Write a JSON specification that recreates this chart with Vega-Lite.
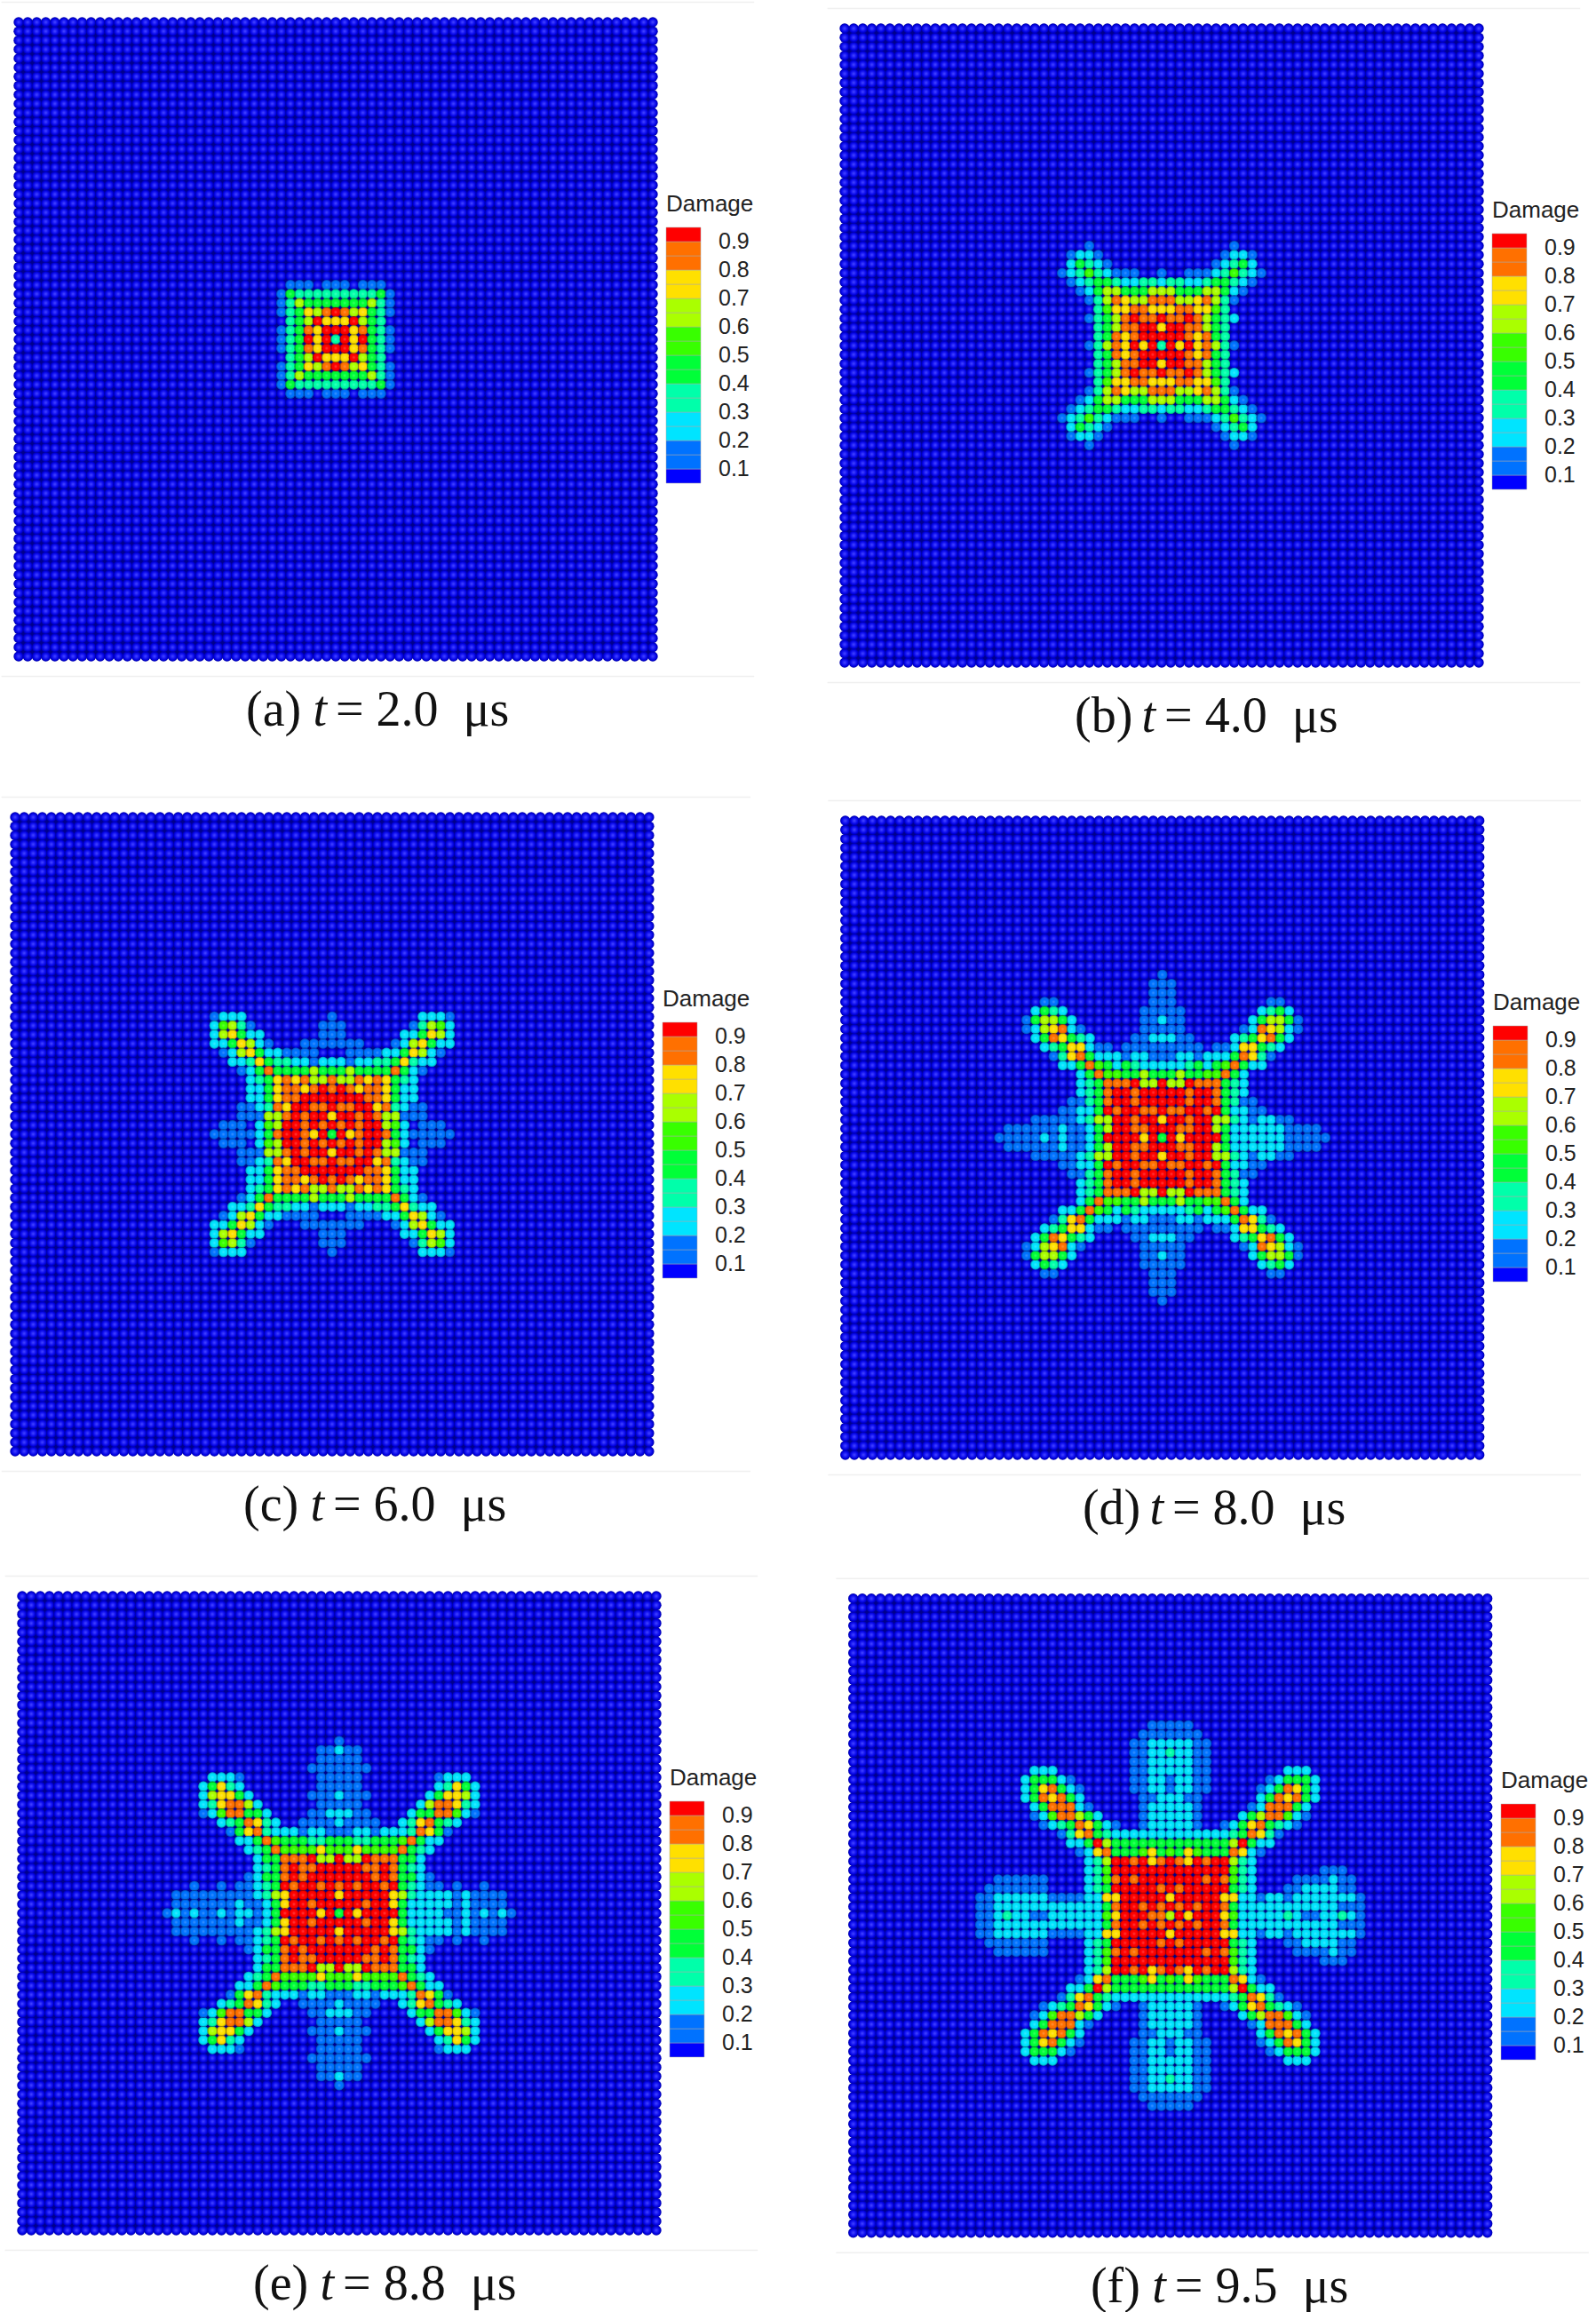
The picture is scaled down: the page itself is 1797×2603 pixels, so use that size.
{"$schema":"https://vega.github.io/schema/vega-lite/v6.json","padding":0,"spacing":0,"columns":2,"background":"white","config":{"view":{"stroke":null},"axis":{"disable":true},"legend":{"type":"gradient","orient":"none","gradientLength":288,"gradientThickness":39,"direction":"vertical","titleFont":"Liberation Sans","titleFontSize":26,"titleFontWeight":"normal","titleColor":"#222222","titlePadding":13,"labelFont":"Liberation Sans","labelFontSize":25,"labelColor":"#222222","labelOverlap":false,"gradientStrokeColor":"#aaaaaa","gradientStrokeWidth":0.5}},"resolve":{"scale":{"color":"independent"},"legend":{"color":"independent"}},
"datasets":{"grid":[{"x":[-35,-34,-33,-32,-31,-30,-29,-28,-27,-26,-25,-24,-23,-22,-21,-20,-19,-18,-17,-16,-15,-14,-13,-12,-11,-10,-9,-8,-7,-6,-5,-4,-3,-2,-1,0,1,2,3,4,5,6,7,8,9,10,11,12,13,14,15,16,17,18,19,20,21,22,23,24,25,26,27,28,29,30,31,32,33,34,35],"y":[-35,-34,-33,-32,-31,-30,-29,-28,-27,-26,-25,-24,-23,-22,-21,-20,-19,-18,-17,-16,-15,-14,-13,-12,-11,-10,-9,-8,-7,-6,-5,-4,-3,-2,-1,0,1,2,3,4,5,6,7,8,9,10,11,12,13,14,15,16,17,18,19,20,21,22,23,24,25,26,27,28,29,30,31,32,33,34,35],"d":0}],
"damage":[
{"p":"a","y":[6,-6],"x":[-5,-4,-3,-1,0,1,3,4,5],"d":[1,1,1,1,1,1,1,1,1]},
{"p":"a","y":[5,-5],"x":[-6,-5,-4,-3,-2,-1,0,1,2,3,4,5,6],"d":[1,4,3,3,3,3,3,3,3,3,3,4,1]},
{"p":"a","y":[4,-4],"x":[-6,-5,-4,-3,-2,-1,0,1,2,3,4,5,6],"d":[1,3,6,4,4,4,4,4,4,4,6,3,1]},
{"p":"a","y":[3,-3],"x":[-6,-5,-4,-3,-2,-1,0,1,2,3,4,5,6],"d":[1,3,4,7,6,8,9,8,6,7,4,3,1]},
{"p":"a","y":[2,-2],"x":[-5,-4,-3,-2,-1,0,1,2,3,4,5],"d":[3,4,6,9,7,7,7,9,6,4,3]},
{"p":"a","y":[1,-1],"x":[-6,-5,-4,-3,-2,-1,0,1,2,3,4,5,6],"d":[1,3,4,8,7,9,9,9,7,8,4,3,1]},
{"p":"a","y":[0],"x":[-6,-5,-4,-3,-2,-1,0,1,2,3,4,5,6],"d":[1,3,4,9,7,9,3,9,7,9,4,3,1]},
{"p":"b","y":[11,-11],"x":[-8,8],"d":[1,1]},
{"p":"b","y":[10,-10],"x":[-10,-9,-8,-7,7,8,9,10],"d":[1,2,2,1,1,2,2,1]},
{"p":"b","y":[9,-9],"x":[-10,-9,-8,-7,-6,6,7,8,9,10],"d":[2,4,3,2,1,1,2,3,4,2]},
{"p":"b","y":[8,-8],"x":[-11,-10,-9,-8,-7,-6,-5,-4,-3,0,3,4,5,6,7,8,9,10,11],"d":[1,2,3,5,3,2,1,1,1,1,1,1,1,2,3,5,3,2,1]},
{"p":"b","y":[7,-7],"x":[-10,-9,-8,-7,-6,-5,-4,-3,-2,-1,0,1,2,3,4,5,6,7,8,9,10],"d":[1,2,3,4,4,3,2,2,3,3,2,3,3,2,2,3,4,4,3,2,1]},
{"p":"b","y":[6,-6],"x":[-9,-8,-7,-6,-5,-4,-3,-2,-1,0,1,2,3,4,5,6,7,8,9],"d":[1,2,4,6,6,4,4,4,6,6,6,4,4,4,6,6,4,2,1]},
{"p":"b","y":[5,-5],"x":[-8,-7,-6,-5,-4,-3,-2,-1,0,1,2,3,4,5,6,7,8],"d":[1,3,6,8,7,6,6,8,8,8,6,6,7,8,6,3,1]},
{"p":"b","y":[4,-4],"x":[-7,-6,-5,-4,-3,-2,-1,0,1,2,3,4,5,6,7],"d":[3,5,7,7,8,8,7,7,7,8,8,7,7,5,3]},
{"p":"b","y":[3,-3],"x":[-8,-7,-6,-5,-4,-3,-2,-1,0,1,2,3,4,5,6,7,8],"d":[1,3,4,6,8,9,8,8,9,8,8,9,8,6,4,3,2]},
{"p":"b","y":[2,-2],"x":[-7,-6,-5,-4,-3,-2,-1,0,1,2,3,4,5,6,7],"d":[3,4,6,8,8,9,9,7,9,9,8,8,6,4,3]},
{"p":"b","y":[1,-1],"x":[-7,-6,-5,-4,-3,-2,-1,0,1,2,3,4,5,6,7],"d":[3,4,8,7,8,9,9,9,9,9,8,7,8,4,3]},
{"p":"b","y":[0],"x":[-8,-7,-6,-5,-4,-3,-2,-1,0,1,2,3,4,5,6,7,8],"d":[1,3,6,8,7,9,7,9,3,9,7,9,7,8,6,3,1]},
{"p":"c","y":[13,-13],"x":[-13,-12,-11,-10,0,10,11,12,13],"d":[1,2,2,2,1,2,2,2,1]},
{"p":"c","y":[12,-12],"x":[-13,-12,-11,-10,-9,-1,0,1,9,10,11,12,13],"d":[2,5,6,3,1,1,1,1,1,3,6,5,2]},
{"p":"c","y":[11,-11],"x":[-13,-12,-11,-10,-9,-8,-1,0,1,8,9,10,11,12,13],"d":[2,6,7,4,2,2,1,1,1,2,2,4,7,6,2]},
{"p":"c","y":[10,-10],"x":[-13,-12,-11,-10,-9,-8,-7,-3,-2,-1,0,1,2,3,7,8,9,10,11,12,13],"d":[2,2,4,7,6,2,1,1,1,1,1,1,1,1,1,2,6,7,4,2,2]},
{"p":"c","y":[9,-9],"x":[-12,-11,-10,-9,-8,-7,-6,-5,-4,-3,-2,2,3,4,5,6,7,8,9,10,11,12],"d":[1,2,6,7,4,2,2,1,1,1,1,1,1,1,1,2,2,4,7,6,2,1]},
{"p":"c","y":[8,-8],"x":[-11,-10,-9,-8,-7,-6,-5,-4,-3,-2,-1,0,1,2,3,4,5,6,7,8,9,10,11],"d":[2,2,3,7,4,3,3,2,2,1,2,2,2,1,2,2,3,3,4,7,3,2,2]},
{"p":"c","y":[7,-7],"x":[-10,-9,-8,-7,-6,-5,-4,-3,-2,-1,0,1,2,3,4,5,6,7,8,9,10],"d":[1,2,4,8,4,4,4,4,6,4,4,4,6,4,4,4,4,8,4,2,1]},
{"p":"c","y":[6,-6],"x":[-9,-8,-7,-6,-5,-4,-3,-2,-1,0,1,2,3,4,5,6,7,8,9],"d":[2,3,4,7,8,7,8,6,6,8,6,6,8,7,8,7,4,3,2]},
{"p":"c","y":[5,-5],"x":[-9,-8,-7,-6,-5,-4,-3,-2,-1,0,1,2,3,4,5,6,7,8,9],"d":[2,2,4,7,8,8,7,8,9,8,9,8,7,8,8,7,4,2,2]},
{"p":"c","y":[4,-4],"x":[-9,-8,-7,-6,-5,-4,-3,-2,-1,0,1,2,3,4,5,6,7,8,9],"d":[2,2,4,7,8,8,9,9,9,9,9,9,9,8,8,7,4,2,2]},
{"p":"c","y":[3,-3],"x":[-10,-9,-8,-7,-6,-5,-4,-3,-2,-1,0,1,2,3,4,5,6,7,8,9,10],"d":[1,1,2,3,8,7,9,9,8,8,9,8,8,9,9,7,8,3,2,1,1]},
{"p":"c","y":[2,-2],"x":[-10,-9,-8,-7,-6,-5,-4,-3,-2,-1,0,1,2,3,4,5,6,7,8,9,10],"d":[1,1,1,6,6,8,9,8,9,9,7,9,9,8,9,8,6,6,1,1,1]},
{"p":"c","y":[1,-1],"x":[-12,-11,-10,-8,-7,-6,-5,-4,-3,-2,-1,0,1,2,3,4,5,6,7,8,10,11,12],"d":[1,1,1,2,5,6,9,9,8,9,8,9,8,9,8,9,9,6,5,2,1,1,1]},
{"p":"c","y":[0],"x":[-13,-12,-11,-10,-9,-8,-7,-6,-5,-4,-3,-2,-1,0,1,2,3,4,5,6,7,8,9,10,11,12,13],"d":[1,1,1,1,1,2,4,8,9,9,8,7,9,4,9,7,8,9,9,8,4,2,1,1,1,1,1]},
{"p":"d","y":[18,-18],"x":[0],"d":[1]},
{"p":"d","y":[17,-17,16,-16],"x":[-1,0,1],"d":[1,1,1]},
{"p":"d","y":[15,-15],"x":[-13,-12,-1,0,1,12,13],"d":[1,1,1,1,1,1,1]},
{"p":"d","y":[14,-14],"x":[-14,-13,-12,-11,-2,-1,0,1,2,11,12,13,14],"d":[2,4,3,2,1,1,1,1,1,2,3,4,2]},
{"p":"d","y":[13,-13],"x":[-15,-14,-13,-12,-11,-10,-2,-1,0,1,2,10,11,12,13,14,15],"d":[1,4,6,6,4,2,1,1,2,1,1,2,4,6,6,4,1]},
{"p":"d","y":[12,-12],"x":[-15,-14,-13,-12,-11,-10,-9,-2,-1,0,1,2,9,10,11,12,13,14,15],"d":[1,2,6,7,8,2,1,1,1,1,1,1,1,2,8,7,6,2,1]},
{"p":"d","y":[11,-11],"x":[-14,-13,-12,-11,-10,-9,-8,-3,-2,-1,0,1,2,3,8,9,10,11,12,13,14],"d":[2,4,8,7,4,3,2,1,1,2,2,2,1,1,2,3,4,7,8,4,2]},
{"p":"d","y":[10,-10],"x":[-13,-12,-11,-10,-9,-8,-7,-6,-4,-3,-2,-1,0,1,2,3,4,6,7,8,9,10,11,12,13],"d":[2,3,4,7,7,2,1,1,1,1,1,1,1,1,1,1,1,1,1,2,7,7,4,3,2]},
{"p":"d","y":[9,-9],"x":[-12,-11,-10,-9,-8,-7,-6,-5,-4,-3,-2,-1,0,1,2,3,4,5,6,7,8,9,10,11,12],"d":[1,3,7,8,4,2,2,2,1,2,2,1,1,1,2,2,1,2,2,2,4,8,7,3,1]},
{"p":"d","y":[8,-8],"x":[-11,-10,-9,-8,-7,-6,-5,-4,-3,-2,-1,0,1,2,3,4,5,6,7,8,9,10,11],"d":[2,2,4,8,5,4,2,4,3,2,2,2,2,2,3,4,2,4,5,8,4,2,2]},
{"p":"d","y":[7,-7],"x":[-9,-8,-7,-6,-5,-4,-3,-2,-1,0,1,2,3,4,5,6,7,8,9],"d":[2,4,8,5,5,4,4,6,4,4,4,6,4,4,5,5,8,4,2]},
{"p":"d","y":[6,-6],"x":[-9,-8,-7,-6,-5,-4,-3,-2,-1,0,1,2,3,4,5,6,7,8,9],"d":[2,3,4,8,8,8,9,6,6,9,6,6,9,8,8,8,4,3,2]},
{"p":"d","y":[5,-5],"x":[-9,-8,-7,-6,-5,-4,-3,-2,-1,0,1,2,3,4,5,6,7,8,9],"d":[2,3,4,8,9,9,8,9,9,9,9,9,8,9,9,8,4,3,2]},
{"p":"d","y":[4,-4],"x":[-10,-9,-8,-7,-6,-5,-4,-3,-2,-1,0,1,2,3,4,5,6,7,8,9,10],"d":[1,1,3,4,8,9,9,8,9,9,9,9,9,8,9,9,8,4,3,1,1]},
{"p":"d","y":[3,-3],"x":[-11,-10,-9,-8,-7,-6,-5,-4,-3,-2,-1,0,1,2,3,4,5,6,7,8,9,10,11],"d":[1,1,2,2,4,9,8,9,9,8,8,9,8,8,9,9,8,9,4,2,2,1,1]},
{"p":"d","y":[2,-2],"x":[-14,-13,-12,-11,-10,-9,-8,-7,-6,-5,-4,-3,-2,-1,0,1,2,3,4,5,6,7,8,9,10,11,12,13,14],"d":[1,1,1,1,1,2,3,6,6,9,9,8,9,9,7,9,9,8,9,9,6,6,3,2,1,2,2,1,1]},
{"p":"d","y":[1,-1],"x":[-17,-16,-15,-14,-13,-12,-11,-10,-9,-8,-7,-6,-5,-4,-3,-2,-1,0,1,2,3,4,5,6,7,8,9,10,11,12,13,14,15,16,17],"d":[1,1,1,1,1,1,2,1,1,2,4,6,9,9,8,8,9,9,9,8,8,9,9,6,4,2,2,2,2,2,2,1,1,1,1]},
{"p":"d","y":[0],"x":[-18,-17,-16,-15,-14,-13,-12,-11,-10,-9,-8,-7,-6,-5,-4,-3,-2,-1,0,1,2,3,4,5,6,7,8,9,10,11,12,13,14,15,16,17,18],"d":[1,1,1,1,1,2,1,2,1,1,2,4,9,9,9,9,7,9,4,9,7,9,9,9,9,4,2,2,2,2,2,2,1,1,1,1,1]},
{"p":"e","y":[19,-19],"x":[0],"d":[1]},
{"p":"e","y":[18,-18],"x":[-2,-1,0,1,2],"d":[1,1,2,1,1]},
{"p":"e","y":[17,-17],"x":[-2,-1,0,1,2],"d":[1,1,1,1,1]},
{"p":"e","y":[16,-16],"x":[-3,-2,-1,0,1,2,3],"d":[1,1,1,1,1,1,1]},
{"p":"e","y":[15,-15],"x":[-14,-13,-12,-11,-2,-1,0,1,2,11,12,13,14],"d":[2,2,2,1,1,1,1,1,1,1,2,2,2]},
{"p":"e","y":[14,-14],"x":[-15,-14,-13,-12,-11,-2,-1,0,1,2,11,12,13,14,15],"d":[2,4,7,3,2,1,1,1,1,1,2,3,7,4,2]},
{"p":"e","y":[13,-13],"x":[-15,-14,-13,-12,-11,-10,-3,-2,-1,0,1,2,3,10,11,12,13,14,15],"d":[2,6,7,7,4,2,1,1,1,2,1,1,1,2,4,7,7,6,2]},
{"p":"e","y":[12,-12],"x":[-15,-14,-13,-12,-11,-10,-9,-2,-1,0,1,2,9,10,11,12,13,14,15],"d":[2,3,7,8,8,6,2,1,1,1,1,1,2,6,8,8,7,3,2]},
{"p":"e","y":[11,-11],"x":[-15,-14,-13,-12,-11,-10,-9,-8,-3,-2,-1,0,1,2,3,8,9,10,11,12,13,14,15],"d":[1,2,5,8,8,4,4,2,1,1,2,2,2,1,1,2,4,4,8,8,5,2,1]},
{"p":"e","y":[10,-10],"x":[-13,-12,-11,-10,-9,-8,-7,-4,-3,-2,-1,0,1,2,3,4,7,8,9,10,11,12,13],"d":[2,3,4,8,7,3,2,1,1,1,1,2,1,1,1,1,2,3,7,8,4,3,2]},
{"p":"e","y":[9,-9],"x":[-12,-11,-10,-9,-8,-7,-6,-5,-4,-3,-2,-1,0,1,2,3,4,5,6,7,8,9,10,11,12],"d":[1,4,7,8,3,2,2,2,1,2,2,1,1,1,2,2,1,2,2,2,3,8,7,4,1]},
{"p":"e","y":[8,-8],"x":[-11,-10,-9,-8,-7,-6,-5,-4,-3,-2,-1,0,1,2,3,4,5,6,7,8,9,10,11],"d":[2,2,4,8,5,4,4,4,3,3,4,4,4,3,3,4,4,4,5,8,4,2,2]},
{"p":"e","y":[7,-7],"x":[-10,-9,-8,-7,-6,-5,-4,-3,-2,-1,0,1,2,3,4,5,6,7,8,9,10],"d":[2,3,4,8,5,5,5,5,7,5,5,5,7,5,5,5,5,8,4,3,2]},
{"p":"e","y":[6,-6],"x":[-9,-8,-7,-6,-5,-4,-3,-2,-1,0,1,2,3,4,5,6,7,8,9],"d":[2,4,4,8,8,8,9,6,6,9,6,6,9,8,8,8,4,4,2]},
{"p":"e","y":[5,-5],"x":[-9,-8,-7,-6,-5,-4,-3,-2,-1,0,1,2,3,4,5,6,7,8,9],"d":[2,3,4,8,9,8,8,9,9,9,9,9,8,8,9,8,4,3,2]},
{"p":"e","y":[4,-4],"x":[-10,-9,-8,-7,-6,-5,-4,-3,-2,-1,0,1,2,3,4,5,6,7,8,9,10],"d":[1,2,4,4,8,9,8,9,9,9,9,9,9,9,8,9,8,4,4,2,1]},
{"p":"e","y":[3,-3],"x":[-16,-13,-11,-10,-9,-8,-7,-6,-5,-4,-3,-2,-1,0,1,2,3,4,5,6,7,8,9,10,11,13,16],"d":[1,1,1,1,2,3,4,9,8,9,9,8,9,8,9,8,9,9,8,9,4,3,2,1,1,1,1]},
{"p":"e","y":[2,-2],"x":[-18,-17,-16,-15,-14,-13,-12,-11,-10,-9,-8,-7,-6,-5,-4,-3,-2,-1,0,1,2,3,4,5,6,7,8,9,10,11,12,13,14,15,16,17,18],"d":[1,1,1,1,1,1,1,1,1,2,3,6,7,9,9,9,9,9,7,9,9,9,9,9,7,6,3,2,2,2,2,1,2,1,1,1,1]},
{"p":"e","y":[1,-1],"x":[-18,-17,-16,-15,-14,-13,-12,-11,-10,-9,-8,-7,-6,-5,-4,-3,-2,-1,0,1,2,3,4,5,6,7,8,9,10,11,12,13,14,15,16,17,18],"d":[1,1,1,1,1,1,1,2,1,1,2,4,7,9,9,8,9,9,9,9,9,8,9,9,7,4,2,2,2,2,2,1,2,1,1,1,1]},
{"p":"e","y":[0],"x":[-19,-18,-17,-16,-15,-14,-13,-12,-11,-10,-9,-8,-7,-6,-5,-4,-3,-2,-1,0,1,2,3,4,5,6,7,8,9,10,11,12,13,14,15,16,17,18,19],"d":[1,2,1,2,1,1,2,1,2,2,1,2,4,9,9,9,9,7,9,4,9,7,9,9,9,9,4,2,2,2,2,1,1,2,1,2,1,2,1]},
{"p":"f","y":[21,-21],"x":[-2,-1,0,1,2],"d":[1,1,1,1,1]},
{"p":"f","y":[20,-20],"x":[-3,-2,-1,0,1,2,3],"d":[1,1,1,1,1,1,1]},
{"p":"f","y":[19,-19],"x":[-4,-3,-2,-1,0,1,2,3,4],"d":[1,1,2,2,2,2,2,1,1]},
{"p":"f","y":[18,-18],"x":[-4,-3,-2,-1,0,1,2,3,4],"d":[1,1,2,2,3,2,2,1,1]},
{"p":"f","y":[17,-17],"x":[-4,-3,-2,-1,0,1,2,3,4],"d":[1,1,2,2,2,2,2,1,1]},
{"p":"f","y":[16,-16],"x":[-15,-14,-13,-4,-3,-2,-1,0,1,2,3,4,13,14,15],"d":[2,2,2,1,1,2,2,2,2,2,1,1,2,2,2]},
{"p":"f","y":[15,-15],"x":[-16,-15,-14,-13,-12,-11,-4,-3,-2,-1,0,1,2,3,4,11,12,13,14,15,16],"d":[2,4,4,4,2,1,1,1,2,2,1,2,2,1,1,1,2,4,4,4,2]},
{"p":"f","y":[14,-14],"x":[-16,-15,-14,-13,-12,-11,-10,-4,-3,-2,-1,0,1,2,3,4,10,11,12,13,14,15,16],"d":[2,4,7,8,4,2,1,1,1,2,2,1,2,2,1,1,1,2,4,8,7,4,2]},
{"p":"f","y":[13,-13],"x":[-16,-15,-14,-13,-12,-11,-10,-3,-2,-1,0,1,2,3,10,11,12,13,14,15,16],"d":[2,4,8,7,8,4,2,1,1,2,2,2,1,1,2,4,8,7,8,4,2]},
{"p":"f","y":[12,-12],"x":[-15,-14,-13,-12,-11,-10,-9,-3,-2,-1,0,1,2,3,9,10,11,12,13,14,15],"d":[2,4,8,8,8,2,1,1,2,2,2,2,2,1,1,2,8,8,8,4,2]},
{"p":"f","y":[11,-11],"x":[-15,-14,-13,-12,-11,-10,-9,-8,-3,-2,-1,0,1,2,3,8,9,10,11,12,13,14,15],"d":[1,2,5,8,8,6,4,2,1,2,2,2,2,2,1,2,4,6,8,8,5,2,1]},
{"p":"f","y":[10,-10],"x":[-14,-13,-12,-11,-10,-9,-8,-7,-6,-3,-2,-1,0,1,2,3,6,7,8,9,10,11,12,13,14],"d":[1,2,3,4,8,7,4,2,1,1,2,2,2,2,2,1,1,2,4,7,8,4,3,2,1]},
{"p":"f","y":[9,-9],"x":[-12,-11,-10,-9,-8,-7,-6,-5,-4,-3,-2,-1,0,1,2,3,4,5,6,7,8,9,10,11,12],"d":[1,3,7,8,4,3,2,2,2,2,2,2,2,2,2,2,2,2,2,3,4,8,7,3,1]},
{"p":"f","y":[8,-8],"x":[-11,-10,-9,-8,-7,-6,-5,-4,-3,-2,-1,0,1,2,3,4,5,6,7,8,9,10,11],"d":[2,2,4,9,6,4,4,4,4,4,4,4,4,4,4,4,4,4,6,9,4,2,2]},
{"p":"f","y":[7,-7],"x":[-10,-9,-8,-7,-6,-5,-4,-3,-2,-1,0,1,2,3,4,5,6,7,8,9,10],"d":[1,2,7,8,4,4,4,5,7,4,5,4,7,5,4,4,4,8,7,2,1]},
{"p":"f","y":[6,-6],"x":[-9,-8,-7,-6,-5,-4,-3,-2,-1,0,1,2,3,4,5,6,7,8,9],"d":[2,3,6,9,9,8,9,7,8,9,8,7,9,8,9,9,6,3,2]},
{"p":"f","y":[5,-5],"x":[-9,-8,-7,-6,-5,-4,-3,-2,-1,0,1,2,3,4,5,6,7,8,9,17,18,19],"d":[2,3,5,9,9,9,9,9,9,9,9,9,9,9,9,9,5,3,2,1,1,1]},
{"p":"f","y":[4,-4],"x":[-19,-18,-17,-16,-15,-14,-9,-8,-7,-6,-5,-4,-3,-2,-1,0,1,2,3,4,5,6,7,8,9,14,15,16,17,18,19,20],"d":[1,1,1,1,1,1,2,3,5,8,9,8,9,9,9,9,9,9,9,8,9,8,5,3,2,1,1,1,1,2,1,1]},
{"p":"f","y":[3,-3],"x":[-20,-19,-18,-17,-16,-15,-14,-9,-8,-7,-6,-5,-4,-3,-2,-1,0,1,2,3,4,5,6,7,8,9,13,14,15,16,17,18,19,20],"d":[1,1,1,1,1,1,1,2,3,4,9,9,9,9,9,8,9,8,9,9,9,9,9,4,3,2,1,1,2,2,2,2,1,1]},
{"p":"f","y":[2,-2],"x":[-21,-20,-19,-18,-17,-16,-15,-14,-13,-12,-11,-10,-9,-8,-7,-6,-5,-4,-3,-2,-1,0,1,2,3,4,5,6,7,8,9,10,11,12,13,14,15,16,17,18,19,20,21],"d":[1,1,2,2,2,2,2,2,1,1,1,1,2,2,7,7,9,9,9,9,9,7,9,9,9,9,9,7,7,2,2,1,2,2,1,2,2,2,2,2,2,2,1]},
{"p":"f","y":[1,-1],"x":[-21,-20,-19,-18,-17,-16,-15,-14,-13,-12,-11,-10,-9,-8,-7,-6,-5,-4,-3,-2,-1,0,1,2,3,4,5,6,7,8,9,10,11,12,13,14,15,16,17,18,19,20,21],"d":[1,1,2,2,2,2,2,2,2,2,2,2,2,2,4,8,9,9,8,9,8,9,8,9,8,9,9,8,4,2,2,2,2,2,2,2,2,2,2,2,1,1,1]},
{"p":"f","y":[0],"x":[-21,-20,-19,-18,-17,-16,-15,-14,-13,-12,-11,-10,-9,-8,-7,-6,-5,-4,-3,-2,-1,0,1,2,3,4,5,6,7,8,9,10,11,12,13,14,15,16,17,18,19,20,21],"d":[1,1,2,3,2,2,1,1,2,2,2,2,2,2,5,7,9,9,9,8,8,6,9,7,9,9,9,7,5,2,2,2,2,2,3,2,1,1,2,2,3,2,1]}
],
"one":[{}]},
"concat":[
{"width":898,"height":868,"encoding":{"x":{"type":"quantitative","scale":{"domain":[-36.96,51.08]}},"y":{"type":"quantitative","scale":{"domain":[-47.65,37.45]}}},
"layer":[
{"data":{"name":"one"},"mark":{"type":"rule","color":"#efefef","strokeWidth":1.5},"encoding":{"x":{"datum":-36.9},"x2":{"datum":46.2},"y":{"datum":37.2}}},
{"data":{"name":"one"},"mark":{"type":"rule","color":"#efefef","strokeWidth":1.5},"encoding":{"x":{"datum":-36.9},"x2":{"datum":46.2},"y":{"datum":-37.2}}},
{"data":{"name":"one"},"mark":{"type":"rect","color":"#00008c"},"encoding":{"x":{"datum":-35},"x2":{"datum":35},"y":{"datum":-35},"y2":{"datum":35}}},
{"data":{"name":"grid"},"transform":[{"flatten":["x"]},{"flatten":["y"]}],"mark":{"type":"circle","size":130,"opacity":1,"fill":{"gradient":"radial","stops":[{"offset":0,"color":"#4848ff"},{"offset":0.4,"color":"#1c1cf6"},{"offset":0.75,"color":"#0000de"},{"offset":1,"color":"#0000a0"}]}},"encoding":{"x":{"field":"x"},"y":{"field":"y"}}},
{"data":{"name":"damage"},"transform":[{"filter":"datum.p=='a'"},{"flatten":["x","d"]},{"flatten":["y"]}],"mark":{"type":"circle","size":130,"opacity":1},"encoding":{"x":{"field":"x"},"y":{"field":"y"},"color":{"field":"d","type":"quantitative","scale":{"type":"quantize","domain":[0.5,9.5],"range":["#0000ff","#0072ff","#0072ff","#00e4ff","#00e4ff","#00ffaa","#00ffaa","#00ff38","#00ff38","#38ff00","#38ff00","#aaff00","#aaff00","#ffe000","#ffe000","#ff7000","#ff7000","#ff0000"]},"legend":{"title":"Damage","labelOffset":20,"legendX":749,"legendY":217,"labelExpr":"datum.value%1==0?format(datum.value/10,'.1f'):''","encode":{"labels":{"update":{"dy":{"value":3}}}}}}}},
{"data":{"name":"damage"},"transform":[{"filter":"datum.p=='a'"},{"flatten":["x","d"]},{"flatten":["y"]}],"mark":{"type":"circle","size":130,"opacity":1,"fill":{"gradient":"radial","stops":[{"offset":0,"color":"rgba(255,255,255,0.25)"},{"offset":0.4,"color":"rgba(255,255,255,0)"},{"offset":0.7,"color":"rgba(0,0,0,0)"},{"offset":1,"color":"rgba(0,0,0,0.35)"}]}},"encoding":{"x":{"field":"x"},"y":{"field":"y"}}},
{"data":{"name":"one"},"mark":{"type":"text","text":"(a)","font":"Liberation Serif","fontSize":56,"align":"left","baseline":"alphabetic","color":"#111111"},"encoding":{"x":{"datum":-9.9},"y":{"datum":-42.65}}},
{"data":{"name":"one"},"mark":{"type":"text","text":"t","font":"Liberation Serif","fontStyle":"italic","fontSize":56,"align":"left","baseline":"alphabetic","color":"#111111"},"encoding":{"x":{"datum":-2.5},"y":{"datum":-42.65}}},
{"data":{"name":"one"},"mark":{"type":"text","text":"= 2.0\u00a0\u00a0μs","font":"Liberation Serif","fontSize":56,"align":"left","baseline":"alphabetic","color":"#111111"},"encoding":{"x":{"datum":0.0},"y":{"datum":-42.65}}}
]},
{"width":899,"height":868,"encoding":{"x":{"type":"quantitative","scale":{"domain":[-40.1,48.04]}},"y":{"type":"quantitative","scale":{"domain":[-46.96,38.14]}}},
"layer":[
{"data":{"name":"one"},"mark":{"type":"rule","color":"#efefef","strokeWidth":1.5},"encoding":{"x":{"datum":-36.9},"x2":{"datum":46.2},"y":{"datum":37.2}}},
{"data":{"name":"one"},"mark":{"type":"rule","color":"#efefef","strokeWidth":1.5},"encoding":{"x":{"datum":-36.9},"x2":{"datum":46.2},"y":{"datum":-37.2}}},
{"data":{"name":"one"},"mark":{"type":"rect","color":"#00008c"},"encoding":{"x":{"datum":-35},"x2":{"datum":35},"y":{"datum":-35},"y2":{"datum":35}}},
{"data":{"name":"grid"},"transform":[{"flatten":["x"]},{"flatten":["y"]}],"mark":{"type":"circle","size":130,"opacity":1,"fill":{"gradient":"radial","stops":[{"offset":0,"color":"#4848ff"},{"offset":0.4,"color":"#1c1cf6"},{"offset":0.75,"color":"#0000de"},{"offset":1,"color":"#0000a0"}]}},"encoding":{"x":{"field":"x"},"y":{"field":"y"}}},
{"data":{"name":"damage"},"transform":[{"filter":"datum.p=='b'"},{"flatten":["x","d"]},{"flatten":["y"]}],"mark":{"type":"circle","size":130,"opacity":1},"encoding":{"x":{"field":"x"},"y":{"field":"y"},"color":{"field":"d","type":"quantitative","scale":{"type":"quantize","domain":[0.5,9.5],"range":["#0000ff","#0072ff","#0072ff","#00e4ff","#00e4ff","#00ffaa","#00ffaa","#00ff38","#00ff38","#38ff00","#38ff00","#aaff00","#aaff00","#ffe000","#ffe000","#ff7000","#ff7000","#ff0000"]},"legend":{"title":"Damage","labelOffset":20,"legendX":781,"legendY":224,"labelExpr":"datum.value%1==0?format(datum.value/10,'.1f'):''","encode":{"labels":{"update":{"dy":{"value":3}}}}}}}},
{"data":{"name":"damage"},"transform":[{"filter":"datum.p=='b'"},{"flatten":["x","d"]},{"flatten":["y"]}],"mark":{"type":"circle","size":130,"opacity":1,"fill":{"gradient":"radial","stops":[{"offset":0,"color":"rgba(255,255,255,0.25)"},{"offset":0.4,"color":"rgba(255,255,255,0)"},{"offset":0.7,"color":"rgba(0,0,0,0)"},{"offset":1,"color":"rgba(0,0,0,0.35)"}]}},"encoding":{"x":{"field":"x"},"y":{"field":"y"}}},
{"data":{"name":"one"},"mark":{"type":"text","text":"(b)","font":"Liberation Serif","fontSize":56,"align":"left","baseline":"alphabetic","color":"#111111"},"encoding":{"x":{"datum":-9.6},"y":{"datum":-42.65}}},
{"data":{"name":"one"},"mark":{"type":"text","text":"t","font":"Liberation Serif","fontStyle":"italic","fontSize":56,"align":"left","baseline":"alphabetic","color":"#111111"},"encoding":{"x":{"datum":-2.2},"y":{"datum":-42.65}}},
{"data":{"name":"one"},"mark":{"type":"text","text":"= 4.0\u00a0\u00a0μs","font":"Liberation Serif","fontSize":56,"align":"left","baseline":"alphabetic","color":"#111111"},"encoding":{"x":{"datum":0.3},"y":{"datum":-42.65}}}
]},
{"width":898,"height":868,"encoding":{"x":{"type":"quantitative","scale":{"domain":[-36.57,51.49]}},"y":{"type":"quantitative","scale":{"domain":[-45.0,40.1]}}},
"layer":[
{"data":{"name":"one"},"mark":{"type":"rule","color":"#efefef","strokeWidth":1.5},"encoding":{"x":{"datum":-36.5},"x2":{"datum":46.2},"y":{"datum":37.2}}},
{"data":{"name":"one"},"mark":{"type":"rule","color":"#efefef","strokeWidth":1.5},"encoding":{"x":{"datum":-36.5},"x2":{"datum":46.2},"y":{"datum":-37.2}}},
{"data":{"name":"one"},"mark":{"type":"rect","color":"#00008c"},"encoding":{"x":{"datum":-35},"x2":{"datum":35},"y":{"datum":-35},"y2":{"datum":35}}},
{"data":{"name":"grid"},"transform":[{"flatten":["x"]},{"flatten":["y"]}],"mark":{"type":"circle","size":130,"opacity":1,"fill":{"gradient":"radial","stops":[{"offset":0,"color":"#4848ff"},{"offset":0.4,"color":"#1c1cf6"},{"offset":0.75,"color":"#0000de"},{"offset":1,"color":"#0000a0"}]}},"encoding":{"x":{"field":"x"},"y":{"field":"y"}}},
{"data":{"name":"damage"},"transform":[{"filter":"datum.p=='c'"},{"flatten":["x","d"]},{"flatten":["y"]}],"mark":{"type":"circle","size":130,"opacity":1},"encoding":{"x":{"field":"x"},"y":{"field":"y"},"color":{"field":"d","type":"quantitative","scale":{"type":"quantize","domain":[0.5,9.5],"range":["#0000ff","#0072ff","#0072ff","#00e4ff","#00e4ff","#00ffaa","#00ffaa","#00ff38","#00ff38","#38ff00","#38ff00","#aaff00","#aaff00","#ffe000","#ffe000","#ff7000","#ff7000","#ff0000"]},"legend":{"title":"Damage","labelOffset":20,"legendX":745,"legendY":244,"labelExpr":"datum.value%1==0?format(datum.value/10,'.1f'):''","encode":{"labels":{"update":{"dy":{"value":3}}}}}}}},
{"data":{"name":"damage"},"transform":[{"filter":"datum.p=='c'"},{"flatten":["x","d"]},{"flatten":["y"]}],"mark":{"type":"circle","size":130,"opacity":1,"fill":{"gradient":"radial","stops":[{"offset":0,"color":"rgba(255,255,255,0.25)"},{"offset":0.4,"color":"rgba(255,255,255,0)"},{"offset":0.7,"color":"rgba(0,0,0,0)"},{"offset":1,"color":"rgba(0,0,0,0.35)"}]}},"encoding":{"x":{"field":"x"},"y":{"field":"y"}}},
{"data":{"name":"one"},"mark":{"type":"text","text":"(c)","font":"Liberation Serif","fontSize":56,"align":"left","baseline":"alphabetic","color":"#111111"},"encoding":{"x":{"datum":-9.8},"y":{"datum":-42.65}}},
{"data":{"name":"one"},"mark":{"type":"text","text":"t","font":"Liberation Serif","fontStyle":"italic","fontSize":56,"align":"left","baseline":"alphabetic","color":"#111111"},"encoding":{"x":{"datum":-2.4},"y":{"datum":-42.65}}},
{"data":{"name":"one"},"mark":{"type":"text","text":"= 6.0\u00a0\u00a0μs","font":"Liberation Serif","fontSize":56,"align":"left","baseline":"alphabetic","color":"#111111"},"encoding":{"x":{"datum":0.1},"y":{"datum":-42.65}}}
]},
{"width":899,"height":868,"encoding":{"x":{"type":"quantitative","scale":{"domain":[-40.17,47.97]}},"y":{"type":"quantitative","scale":{"domain":[-44.61,40.49]}}},
"layer":[
{"data":{"name":"one"},"mark":{"type":"rule","color":"#efefef","strokeWidth":1.5},"encoding":{"x":{"datum":-36.9},"x2":{"datum":46.2},"y":{"datum":37.2}}},
{"data":{"name":"one"},"mark":{"type":"rule","color":"#efefef","strokeWidth":1.5},"encoding":{"x":{"datum":-36.9},"x2":{"datum":46.2},"y":{"datum":-37.2}}},
{"data":{"name":"one"},"mark":{"type":"rect","color":"#00008c"},"encoding":{"x":{"datum":-35},"x2":{"datum":35},"y":{"datum":-35},"y2":{"datum":35}}},
{"data":{"name":"grid"},"transform":[{"flatten":["x"]},{"flatten":["y"]}],"mark":{"type":"circle","size":130,"opacity":1,"fill":{"gradient":"radial","stops":[{"offset":0,"color":"#4848ff"},{"offset":0.4,"color":"#1c1cf6"},{"offset":0.75,"color":"#0000de"},{"offset":1,"color":"#0000a0"}]}},"encoding":{"x":{"field":"x"},"y":{"field":"y"}}},
{"data":{"name":"damage"},"transform":[{"filter":"datum.p=='d'"},{"flatten":["x","d"]},{"flatten":["y"]}],"mark":{"type":"circle","size":130,"opacity":1},"encoding":{"x":{"field":"x"},"y":{"field":"y"},"color":{"field":"d","type":"quantitative","scale":{"type":"quantize","domain":[0.5,9.5],"range":["#0000ff","#0072ff","#0072ff","#00e4ff","#00e4ff","#00ffaa","#00ffaa","#00ff38","#00ff38","#38ff00","#38ff00","#aaff00","#aaff00","#ffe000","#ffe000","#ff7000","#ff7000","#ff0000"]},"legend":{"title":"Damage","labelOffset":20,"legendX":782,"legendY":248,"labelExpr":"datum.value%1==0?format(datum.value/10,'.1f'):''","encode":{"labels":{"update":{"dy":{"value":3}}}}}}}},
{"data":{"name":"damage"},"transform":[{"filter":"datum.p=='d'"},{"flatten":["x","d"]},{"flatten":["y"]}],"mark":{"type":"circle","size":130,"opacity":1,"fill":{"gradient":"radial","stops":[{"offset":0,"color":"rgba(255,255,255,0.25)"},{"offset":0.4,"color":"rgba(255,255,255,0)"},{"offset":0.7,"color":"rgba(0,0,0,0)"},{"offset":1,"color":"rgba(0,0,0,0.35)"}]}},"encoding":{"x":{"field":"x"},"y":{"field":"y"}}},
{"data":{"name":"one"},"mark":{"type":"text","text":"(d)","font":"Liberation Serif","fontSize":56,"align":"left","baseline":"alphabetic","color":"#111111"},"encoding":{"x":{"datum":-8.8},"y":{"datum":-42.65}}},
{"data":{"name":"one"},"mark":{"type":"text","text":"t","font":"Liberation Serif","fontStyle":"italic","fontSize":56,"align":"left","baseline":"alphabetic","color":"#111111"},"encoding":{"x":{"datum":-1.4},"y":{"datum":-42.65}}},
{"data":{"name":"one"},"mark":{"type":"text","text":"= 8.0\u00a0\u00a0μs","font":"Liberation Serif","fontSize":56,"align":"left","baseline":"alphabetic","color":"#111111"},"encoding":{"x":{"datum":1.1},"y":{"datum":-42.65}}}
]},
{"width":898,"height":867,"encoding":{"x":{"type":"quantitative","scale":{"domain":[-37.35,50.69]}},"y":{"type":"quantitative","scale":{"domain":[-44.02,40.98]}}},
"layer":[
{"data":{"name":"one"},"mark":{"type":"rule","color":"#efefef","strokeWidth":1.5},"encoding":{"x":{"datum":-36.9},"x2":{"datum":46.2},"y":{"datum":37.2}}},
{"data":{"name":"one"},"mark":{"type":"rule","color":"#efefef","strokeWidth":1.5},"encoding":{"x":{"datum":-36.9},"x2":{"datum":46.2},"y":{"datum":-37.2}}},
{"data":{"name":"one"},"mark":{"type":"rect","color":"#00008c"},"encoding":{"x":{"datum":-35},"x2":{"datum":35},"y":{"datum":-35},"y2":{"datum":35}}},
{"data":{"name":"grid"},"transform":[{"flatten":["x"]},{"flatten":["y"]}],"mark":{"type":"circle","size":130,"opacity":1,"fill":{"gradient":"radial","stops":[{"offset":0,"color":"#4848ff"},{"offset":0.4,"color":"#1c1cf6"},{"offset":0.75,"color":"#0000de"},{"offset":1,"color":"#0000a0"}]}},"encoding":{"x":{"field":"x"},"y":{"field":"y"}}},
{"data":{"name":"damage"},"transform":[{"filter":"datum.p=='e'"},{"flatten":["x","d"]},{"flatten":["y"]}],"mark":{"type":"circle","size":130,"opacity":1},"encoding":{"x":{"field":"x"},"y":{"field":"y"},"color":{"field":"d","type":"quantitative","scale":{"type":"quantize","domain":[0.5,9.5],"range":["#0000ff","#0072ff","#0072ff","#00e4ff","#00e4ff","#00ffaa","#00ffaa","#00ff38","#00ff38","#38ff00","#38ff00","#aaff00","#aaff00","#ffe000","#ffe000","#ff7000","#ff7000","#ff0000"]},"legend":{"title":"Damage","labelOffset":20,"legendX":753,"legendY":253,"labelExpr":"datum.value%1==0?format(datum.value/10,'.1f'):''","encode":{"labels":{"update":{"dy":{"value":3}}}}}}}},
{"data":{"name":"damage"},"transform":[{"filter":"datum.p=='e'"},{"flatten":["x","d"]},{"flatten":["y"]}],"mark":{"type":"circle","size":130,"opacity":1,"fill":{"gradient":"radial","stops":[{"offset":0,"color":"rgba(255,255,255,0.25)"},{"offset":0.4,"color":"rgba(255,255,255,0)"},{"offset":0.7,"color":"rgba(0,0,0,0)"},{"offset":1,"color":"rgba(0,0,0,0.35)"}]}},"encoding":{"x":{"field":"x"},"y":{"field":"y"}}},
{"data":{"name":"one"},"mark":{"type":"text","text":"(e)","font":"Liberation Serif","fontSize":56,"align":"left","baseline":"alphabetic","color":"#111111"},"encoding":{"x":{"datum":-9.5},"y":{"datum":-42.65}}},
{"data":{"name":"one"},"mark":{"type":"text","text":"t","font":"Liberation Serif","fontStyle":"italic","fontSize":56,"align":"left","baseline":"alphabetic","color":"#111111"},"encoding":{"x":{"datum":-2.1},"y":{"datum":-42.65}}},
{"data":{"name":"one"},"mark":{"type":"text","text":"= 8.8\u00a0\u00a0μs","font":"Liberation Serif","fontSize":56,"align":"left","baseline":"alphabetic","color":"#111111"},"encoding":{"x":{"datum":0.4},"y":{"datum":-42.65}}}
]},
{"width":899,"height":867,"encoding":{"x":{"type":"quantitative","scale":{"domain":[-41.05,47.09]}},"y":{"type":"quantitative","scale":{"domain":[-43.75,41.25]}}},
"layer":[
{"data":{"name":"one"},"mark":{"type":"rule","color":"#efefef","strokeWidth":1.5},"encoding":{"x":{"datum":-36.9},"x2":{"datum":46.2},"y":{"datum":37.2}}},
{"data":{"name":"one"},"mark":{"type":"rule","color":"#efefef","strokeWidth":1.5},"encoding":{"x":{"datum":-36.9},"x2":{"datum":46.2},"y":{"datum":-37.2}}},
{"data":{"name":"one"},"mark":{"type":"rect","color":"#00008c"},"encoding":{"x":{"datum":-35},"x2":{"datum":35},"y":{"datum":-35},"y2":{"datum":35}}},
{"data":{"name":"grid"},"transform":[{"flatten":["x"]},{"flatten":["y"]}],"mark":{"type":"circle","size":130,"opacity":1,"fill":{"gradient":"radial","stops":[{"offset":0,"color":"#4848ff"},{"offset":0.4,"color":"#1c1cf6"},{"offset":0.75,"color":"#0000de"},{"offset":1,"color":"#0000a0"}]}},"encoding":{"x":{"field":"x"},"y":{"field":"y"}}},
{"data":{"name":"damage"},"transform":[{"filter":"datum.p=='f'"},{"flatten":["x","d"]},{"flatten":["y"]}],"mark":{"type":"circle","size":130,"opacity":1},"encoding":{"x":{"field":"x"},"y":{"field":"y"},"color":{"field":"d","type":"quantitative","scale":{"type":"quantize","domain":[0.5,9.5],"range":["#0000ff","#0072ff","#0072ff","#00e4ff","#00e4ff","#00ffaa","#00ffaa","#00ff38","#00ff38","#38ff00","#38ff00","#aaff00","#aaff00","#ffe000","#ffe000","#ff7000","#ff7000","#ff0000"]},"legend":{"title":"Damage","labelOffset":20,"legendX":791,"legendY":256,"labelExpr":"datum.value%1==0?format(datum.value/10,'.1f'):''","encode":{"labels":{"update":{"dy":{"value":3}}}}}}}},
{"data":{"name":"damage"},"transform":[{"filter":"datum.p=='f'"},{"flatten":["x","d"]},{"flatten":["y"]}],"mark":{"type":"circle","size":130,"opacity":1,"fill":{"gradient":"radial","stops":[{"offset":0,"color":"rgba(255,255,255,0.25)"},{"offset":0.4,"color":"rgba(255,255,255,0)"},{"offset":0.7,"color":"rgba(0,0,0,0)"},{"offset":1,"color":"rgba(0,0,0,0.35)"}]}},"encoding":{"x":{"field":"x"},"y":{"field":"y"}}},
{"data":{"name":"one"},"mark":{"type":"text","text":"(f)","font":"Liberation Serif","fontSize":56,"align":"left","baseline":"alphabetic","color":"#111111"},"encoding":{"x":{"datum":-8.8},"y":{"datum":-42.65}}},
{"data":{"name":"one"},"mark":{"type":"text","text":"t","font":"Liberation Serif","fontStyle":"italic","fontSize":56,"align":"left","baseline":"alphabetic","color":"#111111"},"encoding":{"x":{"datum":-2.0},"y":{"datum":-42.65}}},
{"data":{"name":"one"},"mark":{"type":"text","text":"= 9.5\u00a0\u00a0μs","font":"Liberation Serif","fontSize":56,"align":"left","baseline":"alphabetic","color":"#111111"},"encoding":{"x":{"datum":0.5},"y":{"datum":-42.65}}}
]}
]}
